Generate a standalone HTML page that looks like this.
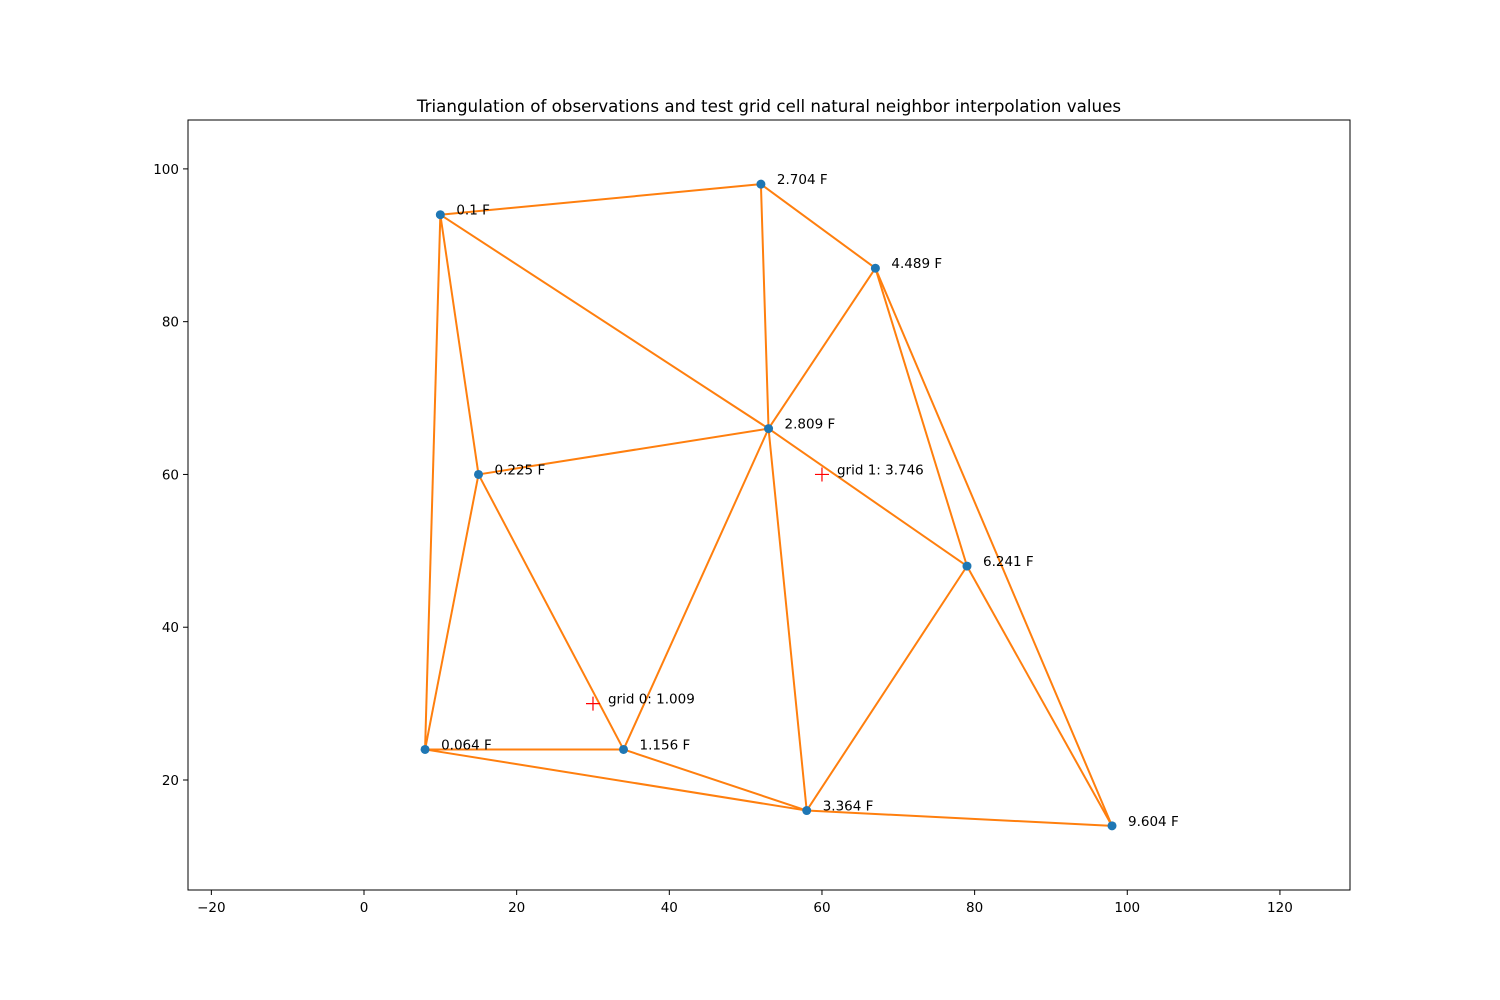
<!DOCTYPE html>
<html><head><meta charset="utf-8">
<style>
html,body{margin:0;padding:0;background:#fff;}
svg{display:block;font-family:"DejaVu Sans","Liberation Sans",sans-serif;}
</style></head>
<body>
<svg id="chart" width="1500" height="1000">
<rect width="1500" height="1000" fill="#fff"/>
<text x="769" y="112" text-anchor="middle" font-size="16.7">Triangulation of observations and test grid cell natural neighbor interpolation values</text>
<g id="plot"></g>
</svg>
<script>
const obsX = [8, 67, 79, 10, 52, 53, 98, 34, 15, 58];
const obsY = [24, 87, 48, 94, 98, 66, 14, 24, 60, 16];
const obsLabels = ["0.064 F","4.489 F","6.241 F","0.1 F","2.704 F","2.809 F","9.604 F","1.156 F","0.225 F","3.364 F"];
const edgeFrom = [3,4,4,3,3,3,1,1,1,8,8,8,5,5,5,2,2,0,0,7,9];
const edgeTo   = [4,1,5,5,8,0,5,2,6,5,0,7,7,9,2,9,6,7,9,9,6];
const gridX = [30, 60];
const gridY = [30, 60];
const gridLabels = ["grid 0: 1.009","grid 1: 3.746"];
const xTicks = [-20,0,20,40,60,80,100,120];
const yTicks = [20,40,60,80,100];

const L=188,R=1350,T=120,B=890;
const xMin=-23.06,xMax=129.18,yMin=5.6,yMax=106.4;
const sx=v=>L+(v-xMin)/(xMax-xMin)*(R-L);
const sy=v=>B-(v-yMin)/(yMax-yMin)*(B-T);
const NS="http://www.w3.org/2000/svg";
const g=document.getElementById('plot');
function mk(tag,attrs){const e=document.createElementNS(NS,tag);for(const k in attrs)e.setAttribute(k,attrs[k]);g.appendChild(e);return e;}

edgeFrom.forEach((a,i)=>{const b=edgeTo[i];
 const e=mk('line',{x1:sx(obsX[a]),y1:sy(obsY[a]),x2:sx(obsX[b]),y2:sy(obsY[b]),stroke:'#ff7f0e','stroke-width':2});
 
 
});
obsX.forEach((x,i)=>{
 const c=mk('circle',{cx:sx(x),cy:sy(obsY[i]),r:4.5,fill:'#1f77b4'});
 
 
 const t=mk('text',{x:sx(x)+16,y:sy(obsY[i])+0,'font-size':13.5});
 t.textContent=obsLabels[i];
 
 
});
gridX.forEach((x,i)=>{
 const px=sx(x),py=sy(gridY[i]);
 const p=mk('path',{d:`M${px-7} ${py}H${px+7}M${px} ${py-7}V${py+7}`,stroke:'#ff0000','stroke-width':1.2,fill:'none'});
 
 
 const t=mk('text',{x:px+15,y:py+0,'font-size':13.5});
 t.textContent=gridLabels[i];
 
 
});
const fr=mk('rect',{x:L,y:T,width:R-L,height:B-T,fill:'none',stroke:'#000','stroke-width':1});


xTicks.forEach(v=>{
 const x=sx(v);
 const l=mk('line',{x1:x,y1:B,x2:x,y2:B+5,stroke:'#000'});
 
 
 const t=mk('text',{x:x,y:B+22,'text-anchor':'middle','font-size':13.5});
 t.textContent=v<0?'\u2212'+Math.abs(v):String(v);
 
 
});
yTicks.forEach(v=>{
 const y=sy(v);
 const l=mk('line',{x1:L-5,y1:y,x2:L,y2:y,stroke:'#000'});
 
 
 const t=mk('text',{x:L-9,y:y+5,'text-anchor':'end','font-size':13.5});
 t.textContent=String(v);
 
 
});
</script>
</body></html>
